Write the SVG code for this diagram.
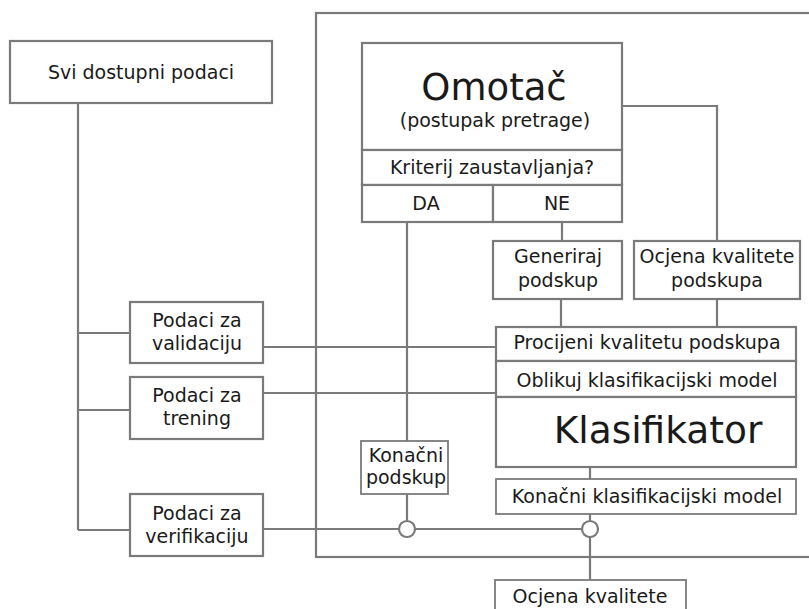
<svg xmlns="http://www.w3.org/2000/svg" width="809" height="609" viewBox="0 0 809 609">
<style>
.b{fill:#fff;stroke:#7a7a7a;stroke-width:2.2}
.t{fill:#7a7a7a;stroke:#7a7a7a;stroke-width:1.6}
.l{fill:none;stroke:#7a7a7a;stroke-width:2.2}
text{font-family:"DejaVu Sans",Verdana,sans-serif;font-size:19px;fill:#1a1a1a;text-anchor:middle}
.big{font-size:37.5px}
</style>
<rect width="809" height="609" fill="#fff"/>
<g id="frame"><rect x="316" y="13" width="600" height="544" class="l"/></g>
<g id="connectors" class="l">
<path d="M78 103V530M78 333H130M78 410H130M78 530H130"/>
<path d="M263 347H496M263 393H496"/>
<path d="M263 529H399M415 529H582"/>
<path d="M407 222V441M407 494V521"/>
<path d="M562 222V241M561 299V327"/>
<path d="M622 106H717V241M717 299V327"/>
<path d="M590 467V479M590 514V521M590 537V580"/>
<circle cx="407" cy="529" r="8" fill="#fff"/>
<circle cx="590" cy="529" r="8" fill="#fff"/>
</g>
<g id="svi"><rect x="10" y="41" width="262" height="62" class="b"/><text x="141" y="79">Svi dostupni podaci</text></g>
<g id="omotac">
<rect x="362" y="43" width="260" height="107" class="b"/>
<text x="494" y="100" class="big" style="font-size:37px">Omotač</text>
<text x="495" y="127">(postupak pretrage)</text>
<rect x="362" y="150" width="260" height="35" class="b"/>
<text x="492" y="174">Kriterij zaustavljanja?</text>
<rect x="362" y="185" width="131" height="37" class="b"/>
<text x="426" y="210">DA</text>
<rect x="493" y="185" width="129" height="37" class="b"/>
<text x="557" y="210">NE</text>
</g>
<g id="generiraj"><rect x="493" y="241" width="129" height="58" class="b"/><text x="558" y="263">Generiraj</text><text x="558" y="287">podskup</text></g>
<g id="ocjena-podskupa"><rect x="634" y="241" width="166" height="58" class="b"/><text x="717" y="263">Ocjena kvalitete</text><text x="717" y="287">podskupa</text></g>
<g id="klasifikator">
<rect x="496" y="327" width="300" height="34" class="b"/>
<text x="647" y="349">Procijeni kvalitetu podskupa</text>
<rect x="496" y="361" width="300" height="36" class="b"/>
<text x="647" y="387">Oblikuj klasifikacijski model</text>
<rect x="496" y="397" width="300" height="70" class="b"/>
<text x="658" y="443" class="big">Klasifikator</text>
</g>
<g id="konacni-model"><rect x="496" y="479" width="300" height="35" class="b" style="stroke-width:1.8"/><text x="647" y="503">Konačni klasifikacijski model</text></g>
<g id="validacija"><rect x="130" y="302" width="133" height="61" class="b"/><text x="197" y="327">Podaci za</text><text x="197" y="350">validaciju</text></g>
<g id="trening"><rect x="130" y="377" width="133" height="62" class="b"/><text x="197" y="402">Podaci za</text><text x="197" y="425">trening</text></g>
<g id="verifikacija"><rect x="130" y="494" width="133" height="62" class="b"/><text x="197" y="520">Podaci za</text><text x="197" y="543">verifikaciju</text></g>
<g id="konacni-podskup"><rect x="361" y="441" width="87" height="53" class="b" style="stroke-width:1.8"/><text x="406" y="462">Konačni</text><text x="406" y="484">podskup</text></g>
<g id="ocjena"><rect x="495" y="580" width="191" height="40" class="b" style="stroke-width:1.8"/><text x="590" y="603">Ocjena kvalitete</text></g>
</svg>
